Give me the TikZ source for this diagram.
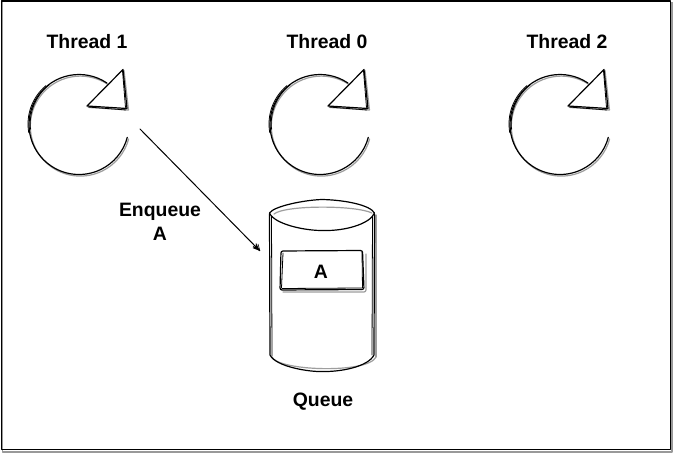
\documentclass[tikz,border=0pt]{standalone}
\usepackage{fontspec}
\setmainfont{Liberation Sans}
\tikzset{
  ink/.style={draw=black,line width=1.2pt,line cap=round,line join=round},
  inkthin/.style={draw=black,line width=0.8pt,line cap=round,line join=round},
  shadeline/.style={draw=black!38,line width=1.2pt,line cap=round,line join=round},
  lbl/.style={font=\bfseries\fontsize{19.4}{24}\selectfont,align=center,inner sep=0pt,text=black}
}
\newcommand{\threadpic}[2]{%
  \begin{scope}[shift={(#1,#2)}]
    % soft offset copy
    \draw[shadeline] (1.3,1.6) ++(-56:50) arc[start angle=-56,end angle=-345,radius=50];
    % main circle, redrawn along the left side
    \draw[ink] (0,0) ++(-56:50) arc[start angle=-56,end angle=-345,radius=50];
    \draw[inkthin] (-1,-0.5) ++(-130:50) arc[start angle=-130,end angle=-190,radius=50];
    \draw[inkthin] (1.2,-0.5) ++(-128:50) arc[start angle=-128,end angle=-186,radius=50];
    % triangle
    \draw[shadeline,fill=white] (10,-17) -- (45,-54) -- (49.5,-14.5) -- cycle;
    \draw[ink,fill=white] (8,-18.5) -- (44,-55) -- (48,-16) -- cycle;
    \draw[inkthin] (43.5,-54) -- (46.5,-17);
    \draw[inkthin] (9,-17.5) -- (47,-14.5);
  \end{scope}}
\begin{document}
\begin{tikzpicture}[x=1pt,y=-1pt,line join=round]
\useasboundingbox (0,0) rectangle (673,454);
\fill[white] (0,0) rectangle (673,454);
% frame
\draw[black!40,line width=1.6pt] (2.5,2.5) -- (2.5,452) -- (672,452) -- (672,2.5);
\draw[black,line width=1.3pt] (1.2,1) -- (670.2,1) -- (670.2,449.3) -- (1.2,449.3) -- cycle;
\threadpic{79}{124.5}
\threadpic{320}{124.5}
\threadpic{560}{124.5}
\node[lbl] (t1) at (87,41.5) {Thread 1};
\node[lbl] (t0) at (327,41.5) {Thread 0};
\node[lbl] (t2) at (567,41.5) {Thread 2};
\node[lbl] (enq) at (160,221.5) {Enqueue\\A};
% cylinder
\draw[shadeline] (272,357) .. controls (278,371) and (368,374) .. (376,357);
\draw[shadeline] (376,215) -- (376,357);
\draw[ink] (269.5,214) -- (270,355) .. controls (276,367) and (310,372) .. (322,371.5)
   .. controls (340,372) and (368,367) .. (374,355) -- (374.5,214);
\draw[inkthin] (271.5,216) -- (272,356);
\draw[inkthin] (372.5,216) -- (372,355);
\draw[shadeline] (274,214) .. controls (285,205) and (355,205) .. (372,213);
\draw[ink] (269.5,213) .. controls (274,206) and (305,200) .. (322,199.5)
   .. controls (345,200) and (370,205) .. (374.5,213)
   .. controls (370,224) and (345,231) .. (324,230.5)
   .. controls (305,231) and (274,224) .. (269.5,213);
% inner box
\draw[shadeline,rounded corners=2pt] (283,292) -- (366,292) -- (366,254);
\draw[ink,rounded corners=2pt] (281,251) -- (362.5,250.5) -- (364,289.5) -- (280,290) -- cycle;
\draw[inkthin] (283,253) -- (281.5,288);
\draw[inkthin] (362,252) -- (362.5,288);
\draw[inkthin] (282,288.5) -- (362,288);
\node[lbl] (a) at (321,271.5) {A};
\node[lbl] (q) at (323,401.5) {Queue};
% connector
\coordinate (from) at (140,129);
\coordinate (to) at (260,251);
\draw[black,line width=1pt,line cap=round] (from) -- (256,247);
\fill[black] (to) -- (252.5,248) -- (255.5,246.5) -- (256,243) -- cycle;
\draw[black,line width=0.6pt] (to) -- (258,244) (to) -- (253,246);
\end{tikzpicture}
\end{document}
